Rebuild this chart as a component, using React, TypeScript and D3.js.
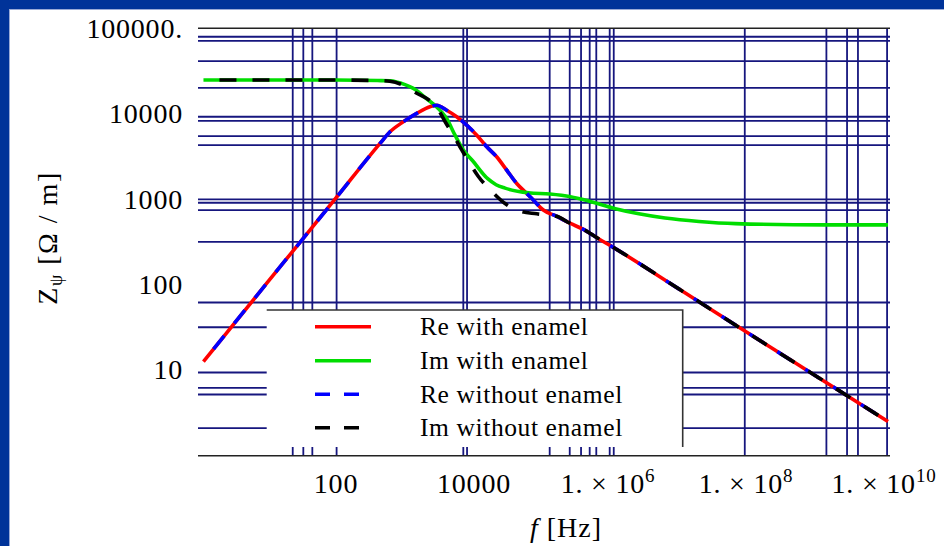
import React from "react";
import * as d3 from "d3";

// impedance per unit length vs frequency
const reFreq = [1.2, 10, 100, 435, 607, 944, 1480, 2300, 2880, 4020, 5610, 7830, 10900, 15300, 21300, 29800, 41600, 58100, 72300, 1.01e5, 1.58e5, 2.45e5, 3.8e5, 6.31e5, 1e6, 1e7, 1e8, 1e9, 1e10];
const reWith = [12.6, 105, 1035, 4510, 6150, 8050, 10100, 12100, 12600, 11000, 9230, 7380, 5640, 4110, 3140, 2190, 1530, 1170, 980, 748, 631, 525, 447, 347, 279, 86.1, 26.3, 8.13, 2.51];
const reWithout = [12.6, 105, 1035, 4510, 6150, 8050, 10100, 12100, 12600, 11000, 9230, 7380, 5640, 4110, 3140, 2190, 1530, 1170, 980, 748, 631, 525, 447, 347, 279, 86.1, 26.3, 8.13, 2.51];

const imWithFreq = [1.2, 100, 398, 603, 1000, 1320, 2040, 2880, 3980, 5310, 7000, 9550, 15800, 20900, 28200, 61700, 1.26e5, 2.51e5, 4.57e5, 1.12e6, 2.45e6, 5.89e6, 1.82e7, 6.17e7, 1.2e9, 1e10];
const imWith = [24800, 24800, 24500, 24300, 21900, 19800, 15100, 12000, 8910, 5620, 3760, 2820, 1740, 1480, 1350, 1190, 1150, 1070, 955, 776, 676, 603, 550, 519, 501, 501];

const imWithoutFreq = [1.2, 100, 398, 603, 944, 1480, 1950, 2880, 3800, 5010, 6610, 8710, 11500, 18200, 28200, 46800, 81300, 1.58e5, 2.45e5, 3.8e5, 6.31e5, 1e6, 1e7, 1e8, 1e9, 1e10];
const imWithout = [24800, 24800, 24500, 24000, 21600, 17400, 15500, 12000, 8130, 5620, 3800, 2630, 1860, 1230, 891, 724, 676, 631, 525, 447, 347, 279, 86.1, 26.3, 8.13, 2.51];

// grid lines (placed at odd values in the original)
const gridFreq = [23.6, 33.6, 45.4, 102, 7000, 7930, 1.25e5, 2.44e5, 3.56e5, 4.75e5, 5.92e5, 9.26e5, 1.06e6, 8.4e7, 1.28e9, 2.55e9, 3.67e9, 9.7e9];
const gridZ = [79600, 71400, 41300, 20100, 9230, 8280, 5480, 4300, 998, 910, 746, 318, 62, 31.8, 9.4, 6.2, 5.2, 2.1];

const yTicks = [1e5, 1e4, 1e3, 100, 10];
const yTickLabels = ["100000.", "10000", "1000", "100", "10"];
const xTicks = [100, 1e4, 1e6, 1e8, 1e10];
const xTickBase = ["100", "10000", "1. \u00d7 10", "1. \u00d7 10", "1. \u00d7 10"];
const xTickExp = ["", "", "6", "8", "10"];

const legendLabels = ["Re with enamel", "Im with enamel", "Re without enamel", "Im without enamel"];
const legendColors = ["#ff0000", "#00dd00", "#0000ff", "#000000"];
const legendDashed = [false, false, true, true];

const font = "'Liberation Serif', 'DejaVu Serif', serif";
const gridColor = "#16167e";

export default function App() {
  const left = 198, right = 888, top = 28.3, bottom = 455.7;
  const x = d3.scaleLog().domain([1, 1e10]).range([left, right]);
  const y = d3.scaleLog().domain([1, 1e5]).range([bottom, top]);

  const line = d3
    .line<[number, number]>()
    .x((d) => x(d[0]))
    .y((d) => y(d[1]))
    .curve(d3.curveMonotoneX);
  const path = (f: number[], z: number[]) =>
    line(f.map((v, i) => [v, z[i]] as [number, number])) || "";

  const legend = { x0: 266.7, y0: 310, x1: 682.7, y1: 447 };
  const rowY = [326.7, 360.7, 394.3, 427.7];

  return (
    <svg
      width={944}
      height={546}
      style={{ position: "absolute", left: 0, top: 0, background: "#fff" }}
      fontFamily={font}
    >
      <rect x={0} y={0} width={944} height={9} fill="#003399" />
      <rect x={0} y={0} width={9} height={546} fill="#003399" />
      <line x1={9} x2={944} y1={9.5} y2={9.5} stroke="#9aaad6" strokeWidth={1} />
      <line x1={9.5} x2={9.5} y1={9} y2={546} stroke="#9aaad6" strokeWidth={1} />

      {/* grid */}
      <g stroke={gridColor} strokeWidth={1.8}>
        {gridZ.map((v, i) => (
          <line key={"h" + i} x1={left} x2={right + 2} y1={y(v)} y2={y(v)} />
        ))}
        {gridFreq.map((v, i) => (
          <line key={"v" + i} x1={x(v)} x2={x(v)} y1={top} y2={bottom} />
        ))}
      </g>
      <g stroke="#222" strokeWidth={1.6}>
        <line x1={left} x2={right + 2} y1={top} y2={top} />
        <line x1={left} x2={right + 2} y1={bottom} y2={bottom} />
      </g>

      {/* curves */}
      <g fill="none" strokeWidth={3.6}>
        <path d={path(reFreq, reWith)} stroke="#ff0000" />
        <path d={path(imWithFreq, imWith)} stroke="#00dd00" />
        <path d={path(reFreq, reWithout)} stroke="#0000ff" strokeDasharray="17,16" strokeDashoffset={17} />
        <path d={path(imWithoutFreq, imWithout)} stroke="#000" strokeDasharray="17,16" strokeDashoffset={17} />
      </g>

      {/* y ticks */}
      {yTicks.map((v, i) => (
        <text key={"yt" + i} x={183} y={y(v)} dy="0.33em" textAnchor="end" fontSize={28} letterSpacing={0.8}>
          {yTickLabels[i]}
        </text>
      ))}
      {/* x ticks */}
      {xTicks.map((v, i) => (
        <text key={"xt" + i} x={x(v) + (xTickExp[i] ? -4 : 0)} y={493} textAnchor="middle" fontSize={28} letterSpacing={0.8}>
          {xTickBase[i]}
          {xTickExp[i] && (
            <tspan dy={-11} fontSize={19}>
              {xTickExp[i]}
            </tspan>
          )}
        </text>
      ))}

      {/* axis titles */}
      <text x={566} y={537} textAnchor="middle" fontSize={28} letterSpacing={1}>
        <tspan fontStyle="italic">f</tspan> [Hz]
      </text>
      <text transform="translate(57,238) rotate(-90)" textAnchor="middle" fontSize={28} letterSpacing={1.5}>
        Z<tspan dy={5} fontSize={18}>ψ</tspan>
        <tspan dy={-5}> [Ω / m]</tspan>
      </text>

      {/* legend */}
      <rect x={legend.x0} y={legend.y0} width={legend.x1 - legend.x0} height={legend.y1 - legend.y0} fill="#fff" />
      <polyline
        points={`${legend.x0},${legend.y0} ${legend.x1},${legend.y0} ${legend.x1},${legend.y1}`}
        fill="none"
        stroke="#333"
        strokeWidth={1.6}
      />
      {legendLabels.map((label, i) => (
        <g key={"lg" + i}>
          <line
            x1={315}
            x2={371}
            y1={rowY[i]}
            y2={rowY[i]}
            stroke={legendColors[i]}
            strokeWidth={3.6}
            strokeDasharray={legendDashed[i] ? "15,14" : undefined}
          />
          <text x={420} y={rowY[i]} dy="0.33em" fontSize={25.5} letterSpacing={0.6}>
            {label}
          </text>
        </g>
      ))}
    </svg>
  );
}
